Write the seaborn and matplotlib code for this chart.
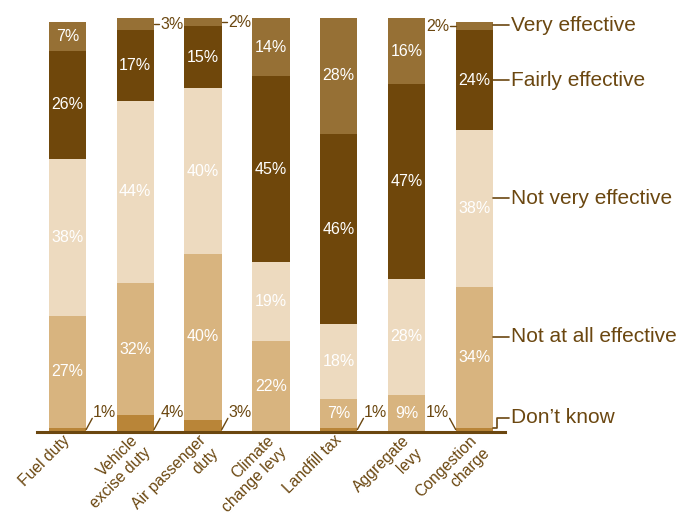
import numpy as np
import pandas as pd
import matplotlib
matplotlib.use("Agg")
import matplotlib.pyplot as plt
import seaborn as sns

# ── Data ─────────────────────────────────────────────────────────────────────
categories = ["Fuel duty", "Vehicle\nexcise duty", "Air passenger\nduty",
              "Climate\nchange levy", "Landfill tax", "Aggregate\nlevy",
              "Congestion\ncharge"]
dont_know = [1, 4, 3, 0, 1, 0, 1]
not_at_all = [27, 32, 40, 22, 7, 9, 34]
not_very = [38, 44, 40, 19, 18, 28, 38]
fairly = [26, 17, 15, 45, 46, 47, 24]
very = [7, 3, 2, 14, 28, 16, 2]

series_names = ["Don\u2019t know", "Not at all effective", "Not very effective",
                "Fairly effective", "Very effective"]
series_vals = [dont_know, not_at_all, not_very, fairly, very]
colors = ["#b98538", "#d8b47f", "#eddabf", "#6f470b", "#967035"]
legend_y = [3.4, 23, 56.5, 85, 98.3]

BROWN = "#6b4710"

# ── Figure ───────────────────────────────────────────────────────────────────
sns.set_style("white")
plt.rcParams["font.family"] = ["Liberation Sans", "DejaVu Sans"]

fig = plt.figure(figsize=(6.85, 5.14), dpi=100)
ax = fig.add_axes([0.054, 0.1595, 0.683, 0.8054])

vals = np.array(series_vals, dtype=float)
tops = np.cumsum(vals, axis=0)
bottoms = tops - vals
df = pd.DataFrame({"cat": categories})

# draw cumulative layers from the top down so they stack
for i in reversed(range(len(series_names))):
    d = df.copy()
    d["top"] = tops[i]
    sns.barplot(data=d, x="cat", y="top", color=colors[i], width=0.55,
                linewidth=0, saturation=1, ax=ax)

ax.set_xlim(-0.45, 6.45)
ax.set_ylim(0, 100)
half = 0.275
n = len(categories)
PCT_SIZE = 11.5

# value labels
for s in range(len(series_names)):
    for j in range(n):
        v = vals[s, j]
        if v == 0:
            continue
        mid = (bottoms[s, j] + tops[s, j]) / 2
        if v >= 5:
            ax.text(j, mid, f"{int(v)}%", ha="center", va="center",
                    color="white", fontsize=PCT_SIZE)
            continue
        left = j == n - 1
        edge = j - half if left else j + half
        sign = -1 if left else 1
        if s == 0:
            # don't know: diagonal leader from bar foot
            ax.plot([edge, edge + sign * 0.09], [0.6, 3.3], color=BROWN,
                    lw=1, clip_on=False)
            ax.text(edge + sign * 0.1, 4.8, f"{int(v)}%", color=BROWN,
                    ha="right" if left else "left", va="center",
                    fontsize=PCT_SIZE)
        else:
            ax.plot([edge, edge + sign * 0.08], [mid, mid], color=BROWN,
                    lw=1, clip_on=False)
            ax.text(edge + sign * 0.09, mid, f"{int(v)}%", color=BROWN,
                    ha="right" if left else "left", va="center",
                    fontsize=PCT_SIZE)

# series labels on the right
xr = n - 1 + half
for s, name in enumerate(series_names):
    y = legend_y[s]
    if s == 0:
        ax.plot([xr, xr + 0.06, xr + 0.06, xr + 0.24], [0.9, 0.9, y, y],
                color=BROWN, lw=1.2, clip_on=False)
    else:
        ax.plot([xr, xr + 0.24], [y, y], color=BROWN, lw=1.2, clip_on=False)
    ax.text(xr + 0.27, y, name, color=BROWN, va="center", ha="left",
            fontsize=15, clip_on=False)

# axes styling
for side in ["top", "right", "left"]:
    ax.spines[side].set_visible(False)
ax.spines["bottom"].set_color(BROWN)
ax.spines["bottom"].set_linewidth(2.2)
ax.set_yticks([])
ax.set_xlabel("")
ax.set_ylabel("")
ax.set_xticks(range(n))
ax.set_xticklabels([])
ax.tick_params(axis="x", which="major", length=0)
ax.set_xticks(np.arange(n - 1) + 0.5, minor=True)
ax.tick_params(axis="x", which="minor", direction="in", length=7,
               width=2, color=BROWN)

# rotated category labels, one text per line, right-aligned
CAT_SIZE = 11.3
step = CAT_SIZE * 1.12 * 0.7071
for j, lab in enumerate(categories):
    for k, line in enumerate(lab.split("\n")):
        ax.annotate(line, xy=(j, 0),
                    xytext=(-3.5 + k * step, -0.5 - k * step),
                    textcoords="offset points", rotation=45, ha="right",
                    va="top", rotation_mode="anchor", color=BROWN,
                    fontsize=CAT_SIZE, annotation_clip=False)

fig.savefig("out.png", dpi=100)
